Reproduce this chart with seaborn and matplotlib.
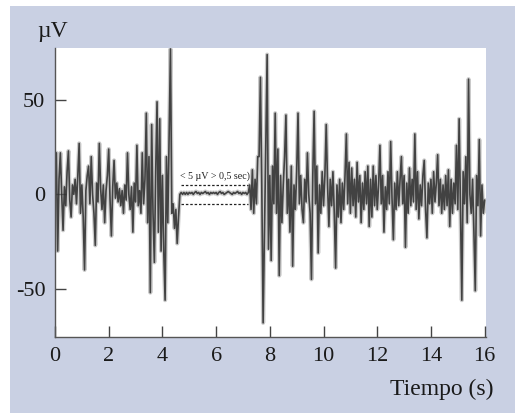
import numpy as np
import pandas as pd
import matplotlib
matplotlib.use("Agg")
import matplotlib.pyplot as plt
from matplotlib.patches import Rectangle
import seaborn as sns

# EEG amplitude (µV), one row per second, sampled every 0.05 s
eeg_s00 = [5, 22, -30, 8, 22, 0, -19, 4, -6, 12, 23, -3, -12, 5, 0, 8, -5, 10, 27, -10]
eeg_s01 = [5, -12, -40, 2, 10, 15, -5, 20, 0, -10, -27, 6, -4, 27, 3, -8, 5, -15, 2, 10]
eeg_s02 = [24, -3, -22, 4, 18, -2, 6, -4, 3, -6, 2, -10, 5, -3, 22, 0, -8, 4, -20, 6]
eeg_s03 = [-4, 26, -6, 2, -10, 22, -5, 8, 43, -15, 20, -52, 37, -10, -36, 12, 49, -20, 40, -30]
eeg_s04 = [10, -30, -56, 20, -15, 30, 77, -10, -5, -18, -8, -26, -12, 0, 1, 0, 1, 0, 1, 0]
eeg_s05 = [1, 0.5, 1, 0, 1, 1.5, 0.5, 1, 0, 1, 0.5, 1, 1.5, 0.5, 1, 0, 1, 0.5, 1, 0.5]
eeg_s06 = [1, 0, 1, 1.5, 0.5, 1, 0, 0.5, 1, 1.5, 1, 0.5, 0, 1, 0.5, 1, 1.5, 0.5, 1, 0]
eeg_s07 = [1, 0.5, 1, 0, 1, 5, -8, 13, -10, 8, -5, 20, 20, 62, 5, -68, -20, 30, 74, -29]
eeg_s08 = [10, -35, 15, -5, 43, -10, 24, -43, 10, -15, 5, 20, 42, -10, 8, -20, 15, -38, 5, -8]
eeg_s09 = [12, 43, -5, 10, -8, -15, 8, -4, 22, 0, -10, -45, 10, 44, -5, 15, -31, 5, -10, 12]
eeg_s10 = [-6, 10, 37, 5, -17, 8, -6, 12, -10, -39, 5, -12, 8, -15, 6, -8, 10, 32, -5, 17]
eeg_s11 = [-10, 14, -6, 8, -12, 17, -4, 10, -15, 6, -8, 12, -5, 15, -17, 8, -12, 15, -6, 10]
eeg_s12 = [-8, 5, 26, -5, 10, -20, 4, -8, 12, -5, 28, -2, -24, 6, -8, 12, -6, 8, 20, -5]
eeg_s13 = [10, -28, 6, -10, 14, -6, 8, -4, 32, -8, 12, -13, 5, -6, 10, 18, -8, -23, 6, -5]
eeg_s14 = [8, -10, 12, -4, 6, 21, -6, 8, -10, 5, -8, 10, -6, 13, -17, 8, -10, 6, -5, 26]
eeg_s15 = [-8, 40, -10, -56, 12, -5, 20, -15, 61, 0, -10, 8, -20, -51, 10, -6, 29, -22, 5, -10]
eeg_end = [-3]

sample_step = 0.05
x_ticks = [0, 2, 4, 6, 8, 10, 12, 14, 16]
y_ticks = [-50, 0, 50]
flat_start, flat_end = 4.7, 7.2
flat_band = 5

amplitude = (eeg_s00 + eeg_s01 + eeg_s02 + eeg_s03 + eeg_s04 + eeg_s05 + eeg_s06
             + eeg_s07 + eeg_s08 + eeg_s09 + eeg_s10 + eeg_s11 + eeg_s12 + eeg_s13
             + eeg_s14 + eeg_s15 + eeg_end)
time = np.arange(len(amplitude)) * sample_step
df = pd.DataFrame({"t": time, "uv": amplitude})

sns.set_style("ticks")
plt.rcParams["font.family"] = ["Liberation Serif", "DejaVu Serif"]

fig = plt.figure(figsize=(5.15, 4.13), dpi=100, facecolor="white")
fig.patches.append(Rectangle((10 / 515, 0), 1, 1 - 6 / 413, transform=fig.transFigure,
                             facecolor="#c9d0e3", edgecolor="none", zorder=-10))

ax = fig.add_axes([55 / 515, 1 - 337 / 413, (486 - 55) / 515, (337 - 48) / 413])
ax.set_zorder(5)
ax.set_facecolor("white")

# soft halo under the trace, then the trace itself
sns.lineplot(data=df, x="t", y="uv", ax=ax, color="#a0a0a0", linewidth=3.0,
             alpha=0.55, estimator=None)
sns.lineplot(data=df, x="t", y="uv", ax=ax, color="#2a2a2a", linewidth=1.2,
             alpha=0.85, estimator=None)

# amplitude threshold band over the suppressed segment
for lvl in (flat_band, -flat_band):
    ax.plot([flat_start, flat_end], [lvl, lvl], color="#222222", linestyle=(0, (2, 1.5)),
            linewidth=0.9)
ax.text((flat_start + flat_end) / 2, 9.5, "< 5 µV > 0,5 sec)", ha="center", va="center",
        fontsize=7.2, color="#222222")

ax.set_xlim(0, 16.05)
ax.set_ylim(-75.5, 77.5)
ax.set_xticks(x_ticks)
ax.set_yticks(y_ticks)
ax.set_xticklabels([str(v) for v in x_ticks])
ax.set_yticklabels([str(v) for v in y_ticks])
ax.set_xlabel("")
ax.set_ylabel("")

for side in ("top", "right"):
    ax.spines[side].set_visible(False)
for side in ("left", "bottom"):
    ax.spines[side].set_color("#555555")
    ax.spines[side].set_linewidth(1.0)

ax.tick_params(axis="both", direction="in", length=8, width=1.0, color="#444444",
               labelsize=16, labelcolor="#1a1a1a")
ax.tick_params(axis="y", pad=7)
ax.tick_params(axis="x", pad=7.5)

fig.text(53 / 515, 1 - 31 / 413, "µV", ha="center", va="center", fontsize=17,
         color="#1a1a1a")
fig.text(493 / 515, 1 - 389 / 413, "Tiempo (s)", ha="right", va="center", fontsize=17,
         color="#1a1a1a")

fig.savefig("out.png", dpi=100, facecolor=fig.get_facecolor())
